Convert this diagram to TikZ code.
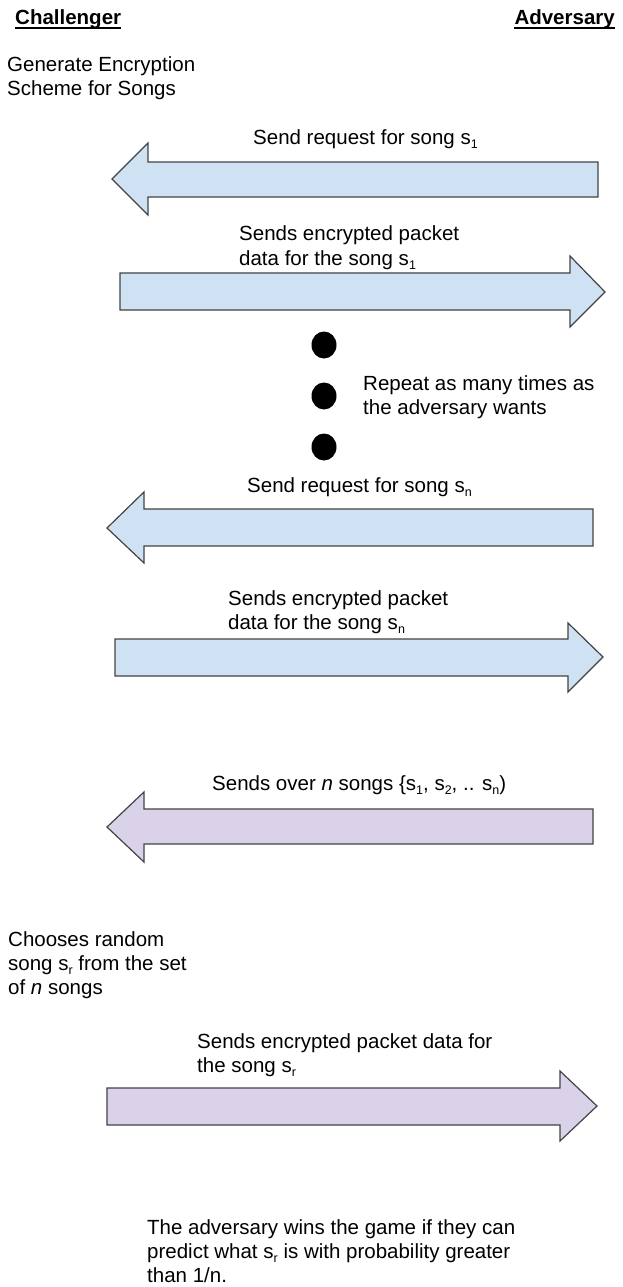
\documentclass[tikz,border=0pt]{standalone}
\usepackage{fontspec}
\setmainfont{Liberation Sans}
\definecolor{reqblue}{HTML}{CFE2F3}
\definecolor{setpurple}{HTML}{D9D2E9}
\definecolor{edgegray}{HTML}{434343}
% lowered small index, as in s_1, s_n, s_r
\newcommand{\subidx}[1]{\raisebox{-0.22em}{\fontsize{12.5pt}{12.5pt}\selectfont #1}}

\begin{document}
\begin{tikzpicture}[x=1pt,y=-1pt,
  lbl/.style={font=\fontsize{20.5pt}{24pt}\selectfont, inner sep=0pt, anchor=base west},
  rolelabel/.style={lbl, font=\fontsize{20.5pt}{24pt}\selectfont\bfseries},
  bluearrow/.style={fill=reqblue, draw=edgegray, line width=1.2pt, line join=miter},
  purplearrow/.style={bluearrow, fill=setpurple},
  bulletdot/.style={fill=black}]

\fill[white] (0,0) rectangle (623,1287);
\useasboundingbox (0,0) rectangle (623,1287);

% parties
\node[rolelabel] (chal) at (15,25) {Challenger};
\node[rolelabel, anchor=base east] (adv) at (615,25) {Adversary};
\draw[line width=1.3pt] ([yshift=-3pt]chal.base west) -- ([yshift=-3pt]chal.base east);
\draw[line width=1.3pt] ([yshift=-3pt]adv.base west) -- ([yshift=-3pt]adv.base east);

\node[lbl] (gen1) at (7,72) {Generate Encryption};
\node[lbl] (gen2) at (7,96) {Scheme for Songs};

% first request / response
\node[lbl] (req1) at (253,144) {Send request for song s\subidx{1}};
\draw[bluearrow] (112,179) -- (148,143) -- (148,162) -- (598,162) -- (598,197)
  -- (148,197) -- (148,215) -- cycle;

\node[lbl] (resp1a) at (239,240) {Sends encrypted packet};
\node[lbl] (resp1b) at (239,265) {data for the song s\subidx{1}};
\draw[bluearrow] (120,273) -- (570,273) -- (570,256) -- (605,292) -- (570,327)
  -- (570,310) -- (120,310) -- cycle;

% repetition
\fill[bulletdot] (324,345) ellipse [x radius=12.5, y radius=13.5];
\fill[bulletdot] (324,396) ellipse [x radius=12.5, y radius=13.5];
\fill[bulletdot] (324,447) ellipse [x radius=12.5, y radius=13.5];
\node[lbl] (rep1) at (363,390) {Repeat as many times as};
\node[lbl] (rep2) at (363,414) {the adversary wants};

% last request / response
\node[lbl] (reqn) at (247,492) {Send request for song s\subidx{n}};
\draw[bluearrow] (107,528) -- (144,492) -- (144,509) -- (593,509) -- (593,546)
  -- (144,546) -- (144,563) -- cycle;

\node[lbl] (respna) at (228,605) {Sends encrypted packet};
\node[lbl] (respnb) at (228,629) {data for the song s\subidx{n}};
\draw[bluearrow] (115,639) -- (568,639) -- (568,623) -- (603,657) -- (568,692)
  -- (568,676) -- (115,676) -- cycle;

% challenge phase
\node[lbl] (sendset) at (212,790) {Sends over \textit{n} songs \{s\subidx{1}, s\subidx{2}, .. s\subidx{n})};
\draw[purplearrow] (107,827) -- (144,792) -- (144,809) -- (593,809) -- (593,844)
  -- (144,844) -- (144,862) -- cycle;

\node[lbl] (pick1) at (8,946) {Chooses random};
\node[lbl] (pick2) at (8,970) {song s\subidx{r} from the set};
\node[lbl] (pick3) at (8,994) {of \textit{n} songs};

\node[lbl] (chal1) at (197,1048) {Sends encrypted packet data for};
\node[lbl] (chal2) at (197,1072) {the song s\subidx{r}};
\draw[purplearrow] (107,1088) -- (560,1088) -- (560,1071) -- (597,1106) -- (560,1141)
  -- (560,1125) -- (107,1125) -- cycle;

% winning condition
\node[lbl] (win1) at (147,1234) {The adversary wins the game if they can};
\node[lbl] (win2) at (147,1258) {predict what s\subidx{r} is with probability greater};
\node[lbl] (win3) at (147,1282) {than 1/n.};
\end{tikzpicture}
\end{document}
